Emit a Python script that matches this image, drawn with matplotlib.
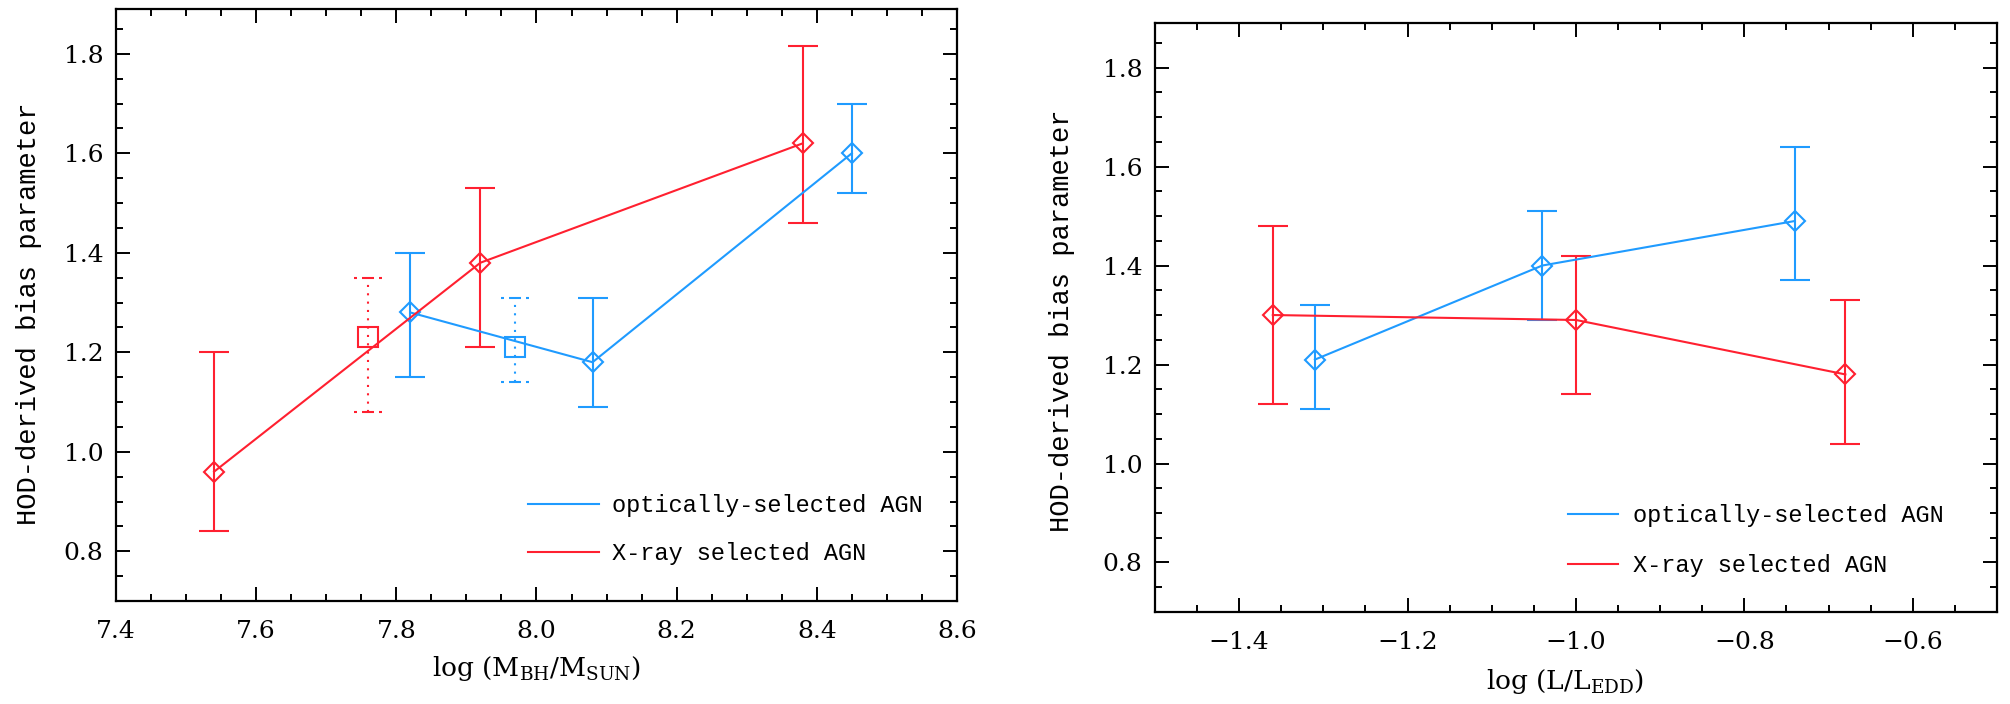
import numpy as np
import matplotlib
matplotlib.use("Agg")
import matplotlib.pyplot as plt
from matplotlib.path import Path
from matplotlib.lines import Line2D
from matplotlib.ticker import MultipleLocator

plt.rcParams['mathtext.fontset'] = 'dejavuserif'

BLUE = '#1f9bff'
RED = '#ff2030'

# left panel: black hole mass
mbh_opt = [7.82, 8.08, 8.45]
b_opt = [1.28, 1.18, 1.60]
b_opt_lo = [1.15, 1.09, 1.52]
b_opt_hi = [1.40, 1.31, 1.70]

mbh_xr = [7.54, 7.92, 8.38]
b_xr = [0.96, 1.38, 1.62]
b_xr_lo = [0.84, 1.21, 1.46]
b_xr_hi = [1.20, 1.53, 1.815]

# open squares with dotted error bars
mbh_sq_opt = [7.97]
b_sq_opt = [1.21]
b_sq_opt_lo = [1.14]
b_sq_opt_hi = [1.31]

mbh_sq_xr = [7.76]
b_sq_xr = [1.23]
b_sq_xr_lo = [1.08]
b_sq_xr_hi = [1.35]

# right panel: Eddington ratio
edd_opt = [-1.31, -1.04, -0.74]
e_opt = [1.21, 1.40, 1.49]
e_opt_lo = [1.11, 1.29, 1.37]
e_opt_hi = [1.32, 1.51, 1.64]

edd_xr = [-1.36, -1.00, -0.68]
e_xr = [1.30, 1.29, 1.18]
e_xr_lo = [1.12, 1.14, 1.04]
e_xr_hi = [1.48, 1.42, 1.33]

label_opt = 'optically-selected AGN'
label_xr = 'X-ray selected AGN'


def yerr(y, lo, hi):
    y = np.asarray(y)
    return [y - np.asarray(lo), np.asarray(hi) - y]


# cap marker drawn as broken pieces so the dotted bars get dotted caps
dotted_cap = Path(
    [(-1.0, 0), (-0.8, 0), (-0.45, 0), (0.45, 0), (0.8, 0), (1.0, 0)],
    [Path.MOVETO, Path.LINETO, Path.MOVETO, Path.LINETO, Path.MOVETO, Path.LINETO],
)


def solid_series(ax, x, y, lo, hi, color):
    ax.errorbar(x, y, yerr=yerr(y, lo, hi), color=color, lw=1.5, elinewidth=1.5,
                capsize=11, capthick=1.5, marker='D', ms=10, mfc='none',
                mec=color, mew=1.5)


def dotted_series(ax, x, y, lo, hi, color):
    _, caps, bars = ax.errorbar(x, y, yerr=yerr(y, lo, hi), color=color, ls='none',
                                elinewidth=1.5, capsize=10, capthick=1.5, marker='s',
                                ms=14, mfc='none', mec=color, mew=1.5)
    for b in bars:
        b.set_linestyle((0, (1, 3)))
    for c in caps:
        c.set_marker(dotted_cap)


def style_axes(ax, ylab_x, ylab_y):
    ax.set_ylim(0.7, 1.89)
    ax.yaxis.set_major_locator(MultipleLocator(0.2))
    ax.yaxis.set_minor_locator(MultipleLocator(0.05))
    ax.xaxis.set_major_locator(MultipleLocator(0.2))
    ax.xaxis.set_minor_locator(MultipleLocator(0.05))
    ax.tick_params(which='both', direction='in', top=True, right=True, width=1.4)
    ax.tick_params(which='major', length=10)
    ax.tick_params(which='minor', length=5)
    ax.tick_params(axis='x', which='major', pad=13.5, labelsize=18, labelfontfamily='DejaVu Serif')
    ax.tick_params(axis='y', which='major', pad=9, labelsize=18, labelfontfamily='DejaVu Serif')
    for s in ax.spines.values():
        s.set_linewidth(1.6)
    ax.set_ylabel('HOD-derived bias parameter', family='Liberation Mono', fontsize=19.5)
    ax.yaxis.set_label_coords(ylab_x, ylab_y)


fig = plt.figure(figsize=(20.10, 7.04), dpi=100)
ax1 = fig.add_axes([0.0577, 0.1463, 0.4184, 0.8409])
ax2 = fig.add_axes([0.5746, 0.1307, 0.4189, 0.8366])

solid_series(ax1, mbh_opt, b_opt, b_opt_lo, b_opt_hi, BLUE)
solid_series(ax1, mbh_xr, b_xr, b_xr_lo, b_xr_hi, RED)
dotted_series(ax1, mbh_sq_opt, b_sq_opt, b_sq_opt_lo, b_sq_opt_hi, BLUE)
dotted_series(ax1, mbh_sq_xr, b_sq_xr, b_sq_xr_lo, b_sq_xr_hi, RED)
ax1.set_xlim(7.4, 8.6)
style_axes(ax1, -0.088, 0.485)
ax1.set_xlabel(r'log (M$_{\mathrm{BH}}$/M$_{\mathrm{SUN}}$)', family='DejaVu Serif', fontsize=19)
ax1.xaxis.set_label_coords(0.5, -0.09)

solid_series(ax2, edd_opt, e_opt, e_opt_lo, e_opt_hi, BLUE)
solid_series(ax2, edd_xr, e_xr, e_xr_lo, e_xr_hi, RED)
ax2.set_xlim(-1.5, -0.5)
style_axes(ax2, -0.095, 0.495)
ax2.set_xlabel(r'log (L/L$_{\mathrm{EDD}}$)', family='DejaVu Serif', fontsize=19)
ax2.xaxis.set_label_coords(0.487, -0.094)

for ax, x0, y0, hl, pad, sp in [(ax1, 0.490, 0.060, 3.0, 0.55, 1.07),
                                (ax2, 0.4905, 0.059, 2.12, 0.64, 1.15)]:
    handles = [Line2D([], [], color=BLUE, lw=1.5), Line2D([], [], color=RED, lw=1.5)]
    ax.legend(handles, [label_opt, label_xr], loc='lower left', bbox_to_anchor=(x0, y0),
              frameon=False, prop={'family': 'Liberation Mono', 'size': 17},
              handlelength=hl, handletextpad=pad, labelspacing=sp, borderpad=0,
              borderaxespad=0)

fig.savefig('out.png', dpi=100)
